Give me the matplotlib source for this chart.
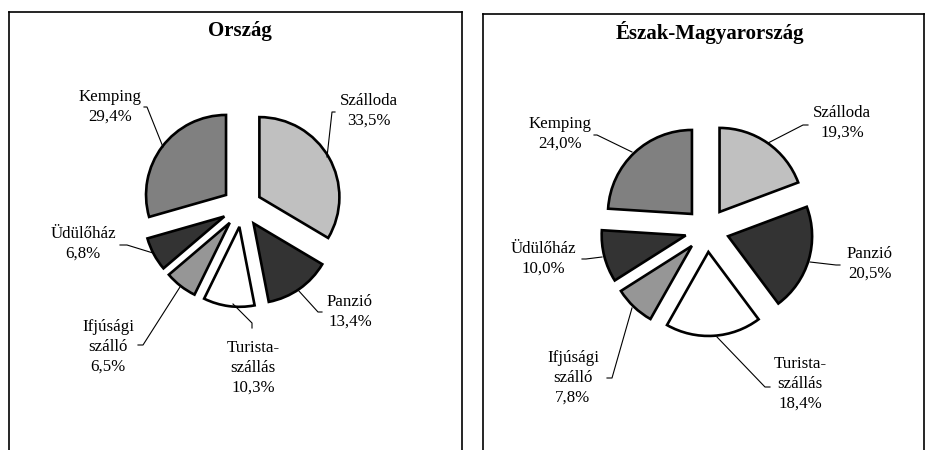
import matplotlib
matplotlib.use("Agg")
import matplotlib.pyplot as plt

plt.rcParams["font.family"] = ["Liberation Serif", "DejaVu Serif"]

# data
categories = ["Szálloda", "Panzió", "Turista-\nszállás", "Ifjúsági\nszálló", "Üdülőház", "Kemping"]
orszag = [33.5, 13.4, 10.3, 6.5, 6.8, 29.4]
eszak = [19.3, 20.5, 18.4, 7.8, 10.0, 24.0]
titles = ["Ország", "Észak-Magyarország"]

colors = ["#c0c0c0", "#333333", "#ffffff", "#969696", "#333333", "#808080"]

W, H = 925, 450

# layout in pixel coords (x, y from top); explode is in pixels too
panels = [
    dict(box=(9, 462, 12), center=(242, 207), radius=80, explode=20, title=(240, 31),
         labels=[(369, 111), (350, 312), (253, 368), (108, 347), (83, 244), (110, 107)],
         leaders=[[(335, 112), (332, 112), (327, 157)],
                  [(298, 290), (318, 312), (322, 312)],
                  [(233, 304), (252, 323), (252, 328)],
                  [(180, 287), (143, 345), (138, 345)],
                  [(153, 253), (127, 245), (120, 245)],
                  [(163, 147), (147, 107), (144, 107)]]),
    dict(box=(483, 924, 14), center=(707, 230), radius=84, explode=22, title=(710, 33),
         labels=[(842, 123), (870, 264), (800, 384), (573, 378), (543, 259), (560, 134)],
         leaders=[[(768, 143), (803, 125), (808, 125)],
                  [(810, 262), (836, 265), (840, 265)],
                  [(717, 337), (765, 387), (770, 387)],
                  [(632, 308), (612, 378), (607, 378)],
                  [(602, 257), (586, 259), (582, 259)],
                  [(632, 152), (597, 135), (594, 135)]]),
]

fig = plt.figure(figsize=(9.25, 4.5), dpi=100)

for values, title, p in zip([orszag, eszak], titles, panels):
    x0, x1, y0 = p["box"]
    y1 = 470
    ax = fig.add_axes([x0 / W, (H - y1) / H, (x1 - x0) / W, (y1 - y0) / H])
    cx, cy = p["center"]
    ax.pie(values, colors=colors, startangle=90, counterclock=False,
           explode=[p["explode"]] * len(values), radius=p["radius"],
           center=(cx, H - cy), frame=True,
           wedgeprops=dict(edgecolor="black", linewidth=1.9))
    ax.set_aspect("auto")
    ax.set_xlim(x0, x1)
    ax.set_ylim(H - y1, H - y0)
    ax.set_xticks([])
    ax.set_yticks([])
    for s in ax.spines.values():
        s.set_linewidth(1.2)
        s.set_color("black")
    ax.spines["bottom"].set_visible(False)

    tx, ty = p["title"]
    ax.text(tx, H - ty, title, ha="center", va="center", fontsize=15, fontweight="bold")

    for cat, v, (lx, ly), pts in zip(categories, values, p["labels"], p["leaders"]):
        txt = cat + "\n" + f"{v:.1f}".replace(".", ",") + "%"
        ax.text(lx, H - ly, txt, ha="center", va="center", fontsize=12.2, linespacing=1.3)
        ax.plot([q[0] for q in pts], [H - q[1] for q in pts], color="black", lw=0.8)

fig.savefig("out.png", dpi=100)
